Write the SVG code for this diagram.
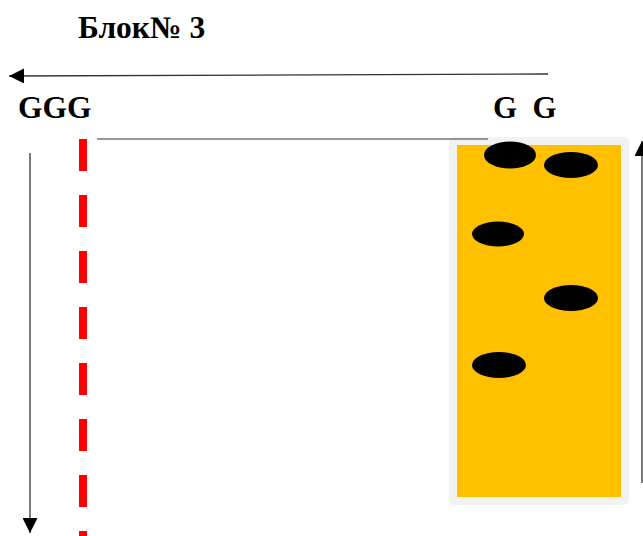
<svg xmlns="http://www.w3.org/2000/svg" width="643" height="536" viewBox="0 0 643 536">
<style>
.t{font-family:"Liberation Serif","Times New Roman",serif;font-weight:bold;fill:#000}
.ln{stroke:#333;stroke-width:1.3;fill:none}
.dot{fill:#000}
</style>
<defs>
<marker id="ah" viewBox="0 0 10 10" refX="10" refY="5" markerWidth="15" markerHeight="15" markerUnits="userSpaceOnUse" orient="auto">
<path d="M0,0 L10,5 L0,10 Z" fill="#000"/>
</marker>
</defs>
<rect width="643" height="536" fill="#fff"/>
<g id="title"><text class="t" x="78" y="38" font-size="31.5">Блок№ 3</text></g>
<g id="label-ggg"><text class="t" x="18" y="118" font-size="31.5">GGG</text></g>
<g id="label-gg"><text class="t" x="493" y="118" font-size="31" xml:space="preserve">G  G</text></g>
<g id="plate">
<rect x="449" y="137" width="180" height="368" rx="5" fill="#f2f2f2"/>
<rect x="457" y="145" width="164" height="352" fill="#ffc000"/>
</g>
<g id="spots">
<ellipse class="dot" cx="510" cy="155" rx="26" ry="13.5"/>
<ellipse class="dot" cx="571" cy="165" rx="27" ry="13"/>
<ellipse class="dot" cx="498" cy="234" rx="26" ry="12.5"/>
<ellipse class="dot" cx="571" cy="298" rx="27" ry="13"/>
<ellipse class="dot" cx="499" cy="365" rx="27" ry="13"/>
</g>
<g id="connectors">
<line class="ln" x1="548" y1="74" x2="9" y2="76" marker-end="url(#ah)"/>
<line x1="97" y1="139" x2="488" y2="139" stroke="#777" stroke-width="1.5"/>
<line class="ln" x1="30" y1="153" x2="30" y2="533" marker-end="url(#ah)"/>
<line class="ln" x1="642" y1="483" x2="642" y2="141" marker-end="url(#ah)"/>
<line x1="83" y1="139" x2="83" y2="540" stroke="#ff0000" stroke-width="8" stroke-dasharray="32 24"/>
</g>
</svg>
